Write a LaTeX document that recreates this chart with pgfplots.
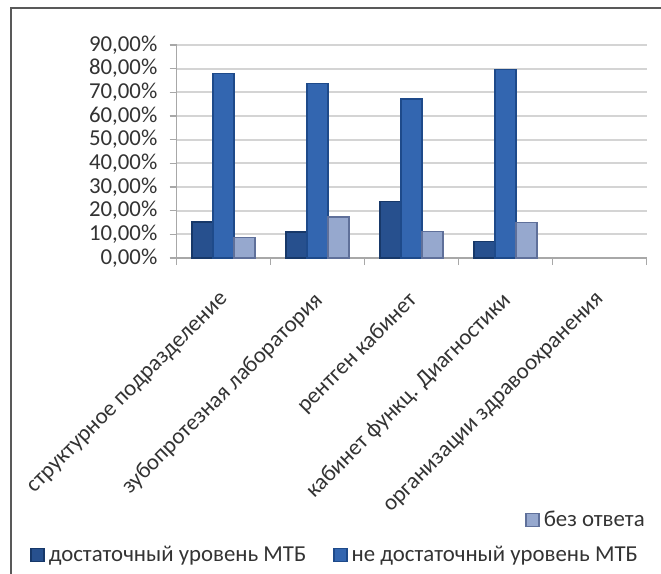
\documentclass[border=0pt]{standalone}
\usepackage{fontspec}
\setmainfont{Carlito}
\usepackage{pgfplots}
\pgfplotsset{compat=1.18}
\definecolor{txt}{HTML}{333333}
\definecolor{gridc}{HTML}{D4D4D4}
\definecolor{axc}{HTML}{A8A8A8}
\definecolor{sAe}{HTML}{173869}
\definecolor{sAm}{HTML}{27508E}
\definecolor{sBe}{HTML}{1E4A8A}
\definecolor{sBm}{HTML}{3366B0}
\definecolor{sCe}{HTML}{5F709A}
\definecolor{sCm}{HTML}{96A8CE}
\newcommand{\lf}{\fontsize{11.4}{13}\selectfont}
\begin{document}
\begin{tikzpicture}
\draw[black!65, line width=0.8pt] (5.5pt,0pt) -- (5.5pt,283pt) -- (330.5pt,283pt);
\begin{axis}[
  at={(88.35pt,158pt)}, anchor=south west,
  scale only axis, width=235pt, height=106.5pt,
  xmin=-0.5, xmax=4.5, ymin=0, ymax=90,
  axis x line*=bottom, axis y line*=left,
  x axis line style={-, draw=axc, line width=0.8pt},
  y axis line style={-, draw=axc, line width=0.8pt},
  xtick={-0.5,0.5,1.5,2.5,3.5,4.5},
  x tick label as interval,
  xticklabels={структурное подразделение, зубопротезная лаборатория, рентген кабинет, {кабинет функц. Диагностики}, организации здравоохранения},
  ytick={0,10,...,90},
  yticklabels={{0,00\%},{10,00\%},{20,00\%},{30,00\%},{40,00\%},{50,00\%},{60,00\%},{70,00\%},{80,00\%},{90,00\%}},
  tick align=outside, major tick length=3.5pt,
  tick style={draw=axc, line width=0.6pt},
  ymajorgrids, grid style={draw=gridc, line width=1.1pt},
  yticklabel style={font=\lf, text=txt, anchor=east, inner sep=0pt, xshift=-6pt},
  xticklabel style={font=\lf, text=txt, xshift=1pt, yshift=-16pt, rotate=45, anchor=east, inner sep=0pt},
  ybar, bar width=10.5pt,
  legend columns=2,
  legend style={at={(-0.3121,-1.3944)}, anchor=west, draw=none, fill=none, inner sep=0pt, font=\lf, text=txt,
    /tikz/every even column/.append style={column sep=11.5pt}},
  legend cell align=left,
  legend image code/.code={\path[#1] (0pt,-3.25pt) rectangle (6.5pt,3.25pt);},
]
\addplot[bar shift=-10.5pt, draw=sAe, line width=0.7pt, fill=sAm] coordinates {(0,15.2) (1,11.0) (2,24.0) (3,6.9)};
\addlegendentry{достаточный уровень МТБ}
\addplot[bar shift=0pt, draw=sBe, line width=0.7pt, fill=sBm] coordinates {(0,78.0) (1,73.8) (2,67.2) (3,79.7)};
\addlegendentry{не достаточный уровень МТБ}
\addplot[bar shift=10.5pt, draw=sCe, line width=0.7pt, fill=sCm] coordinates {(0,8.6) (1,17.4) (2,11.2) (3,15.0)};
\end{axis}
\begin{axis}[
  at={(88.35pt,158pt)}, anchor=south west,
  scale only axis, width=235pt, height=106.5pt,
  xmin=-0.5, xmax=4.5, ymin=0, ymax=90, hide axis,
  legend style={at={(0.741,-1.230)}, anchor=west, draw=none, fill=none, inner sep=0pt, font=\lf, text=txt},
  legend cell align=left,
  legend image code/.code={\path[#1] (0pt,-3.25pt) rectangle (6.5pt,3.25pt);},
]
\addlegendimage{draw=sCe, line width=0.7pt, fill=sCm}
\addlegendentry{без ответа}
\end{axis}
\pgfresetboundingbox
\path (0pt,0pt) rectangle (330.5pt,287pt);
\end{tikzpicture}
\end{document}
